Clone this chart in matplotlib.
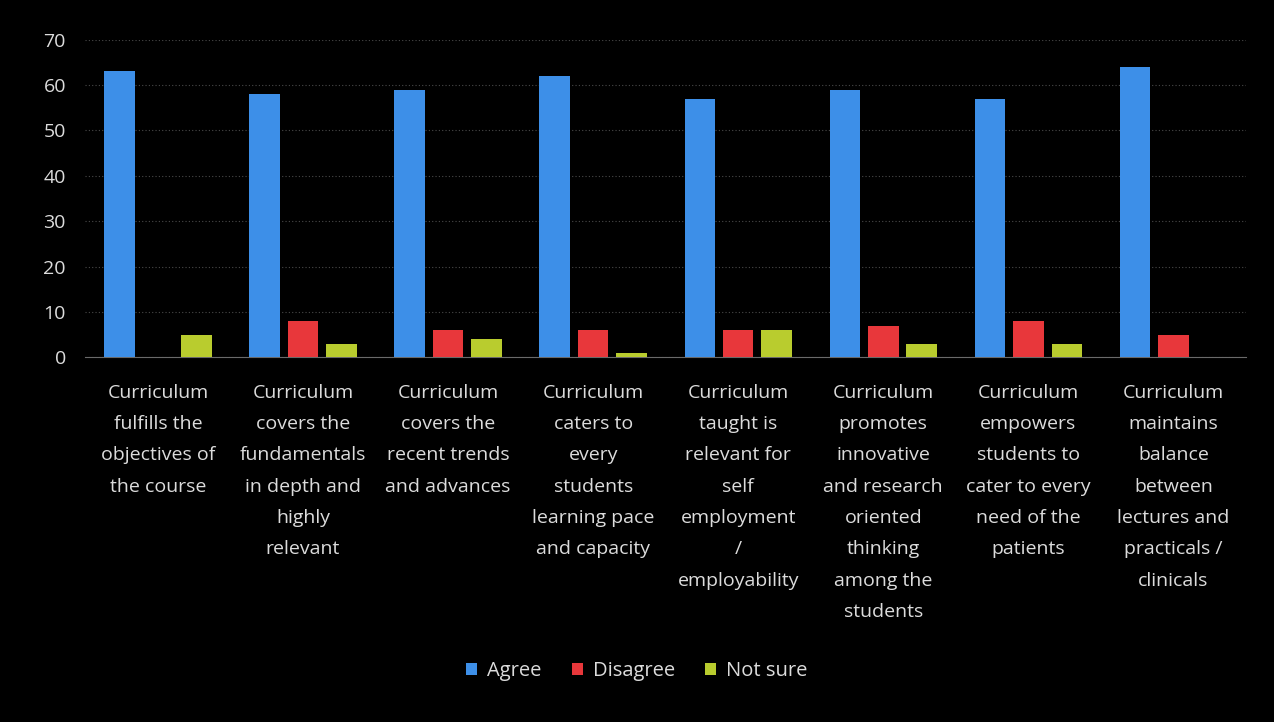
import numpy as np
import matplotlib.pyplot as plt

# category labels, wrapped as in the original chart
categories = [
    "Curriculum\nfulfills the\nobjectives of\nthe course",
    "Curriculum\ncovers the\nfundamentals\nin depth and\nhighly\nrelevant",
    "Curriculum\ncovers the\nrecent trends\nand advances",
    "Curriculum\ncaters to\nevery\nstudents\nlearning pace\nand capacity",
    "Curriculum\ntaught is\nrelevant for\nself\nemployment\n/\nemployability",
    "Curriculum\npromotes\ninnovative\nand research\noriented\nthinking\namong the\nstudents",
    "Curriculum\nempowers\nstudents to\ncater to every\nneed of the\npatients",
    "Curriculum\nmaintains\nbalance\nbetween\nlectures and\npracticals /\nclinicals",
]
agree = [63, 58, 59, 62, 57, 59, 57, 64]
disagree = [0, 8, 6, 6, 6, 7, 8, 5]
not_sure = [5, 3, 4, 1, 6, 3, 3, 0]

series = [("Agree", agree, "#3d8fe8"),
          ("Disagree", disagree, "#e8373b"),
          ("Not sure", not_sure, "#b9cc2e")]

plt.rcParams['font.family'] = ['Open Sans', 'DejaVu Sans']
txt = "#dcdcdc"

fig = plt.figure(figsize=(12.74, 7.22), dpi=100, facecolor="black")
ax = fig.add_axes([0.067, 0.505, 0.911, 0.44], facecolor="black")

x = np.arange(len(categories))
w = 0.21
step = 0.265
for i, (name, vals, col) in enumerate(series):
    ax.bar(x + (i - 1) * step, vals, width=w, color=col, label=name, zorder=3)

ax.set_xlim(-0.5, len(categories) - 0.5)
ax.set_ylim(0, 70)
ax.set_yticks(range(0, 71, 10))
ax.yaxis.grid(True, color="#4a4a4a", linestyle=(0, (1, 2)), linewidth=0.8, zorder=0)
for s in ["top", "right", "left"]:
    ax.spines[s].set_visible(False)
ax.spines["bottom"].set_color("#6a6a6a")
ax.tick_params(axis="y", length=0, colors=txt, labelsize=14, pad=14)
ax.tick_params(axis="x", length=0, colors=txt, labelsize=14, pad=19)
ax.set_xticks(x)
ax.set_xticklabels(categories, linespacing=1.95, va="top")

leg = fig.legend(loc="center", bbox_to_anchor=(0.5, 0.07), ncol=3, frameon=False,
                 fontsize=14.5, handlelength=0.55, handleheight=0.55,
                 columnspacing=1.5, handletextpad=0.5)
for t in leg.get_texts():
    t.set_color(txt)

fig.savefig("out.png", dpi=100, facecolor="black")
